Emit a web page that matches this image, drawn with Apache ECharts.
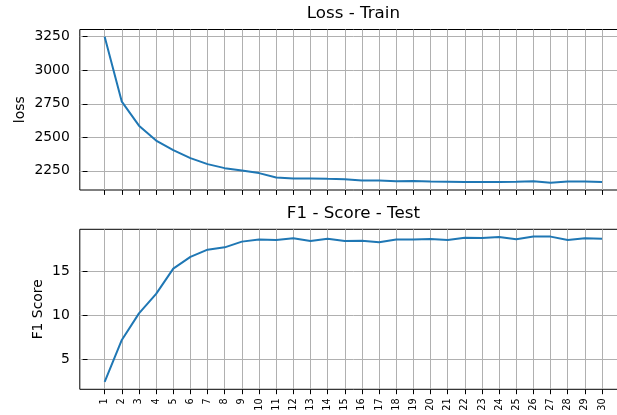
<!DOCTYPE html>
<html>
<head>
<meta charset="utf-8">
<script src="https://cdn.jsdelivr.net/npm/echarts@6/dist/echarts.min.js"></script>
<style>
html,body{margin:0;padding:0;background:#fff;overflow:hidden;width:617px;height:415px;}
#chart{width:640px;height:415px;}
</style>
</head>
<body>
<div id="chart"></div>
<script>
const epochs = [1,2,3,4,5,6,7,8,9,10,11,12,13,14,15,16,17,18,19,20,21,22,23,24,25,26,27,28,29,30];
const epochLabels = ['1','2','3','4','5','6','7','8','9','10','11','12','13','14','15','16','17','18','19','20','21','22','23','24','25','26','27','28','29','30'];
const lossTrain = [3250, 2766, 2587, 2476, 2404, 2345, 2300, 2270, 2252, 2233, 2200, 2193, 2193, 2190, 2188, 2178, 2177, 2173, 2175, 2170, 2168, 2166, 2166, 2166, 2168, 2173, 2161, 2170, 2170, 2166];
const f1Test = [2.39, 7.16, 10.18, 12.39, 15.26, 16.59, 17.42, 17.68, 18.33, 18.56, 18.52, 18.71, 18.41, 18.67, 18.41, 18.44, 18.25, 18.56, 18.56, 18.63, 18.52, 18.78, 18.75, 18.86, 18.6, 18.9, 18.9, 18.52, 18.71, 18.67];
const lossTicks = [2250, 2500, 2750, 3000, 3250];
const f1Ticks = [5, 10, 15];
const titles = ['Loss - Train', 'F1 - Score - Test'];
const yNames = ['loss', 'F1 Score'];

const FONT = 'DejaVu Sans';
const chart = echarts.init(document.getElementById('chart'), null, {renderer: 'canvas'});

const gridLeft = 79.8, gridWidth = 547.1;
function xAxis(gi, showLabels) {
  return {
    type: 'value', gridIndex: gi, min: -0.45, max: 31.45,
    axisLine: {show: false},
    axisTick: {show: true, customValues: epochs, length: 4.9, lineStyle: {color: '#000', width: 1}},
    axisLabel: {show: showLabels, customValues: epochs, rotate: 90, margin: 9,
      fontFamily: FONT, fontSize: 9.7, color: '#000',
      formatter: function (v) { return epochLabels[epochs.indexOf(v)]; }},
    splitLine: {show: true, lineStyle: {color: '#b0b0b0', width: 1}}
  };
}
function yAxis(gi, min, max, ticks, name, gap) {
  return {
    type: 'value', gridIndex: gi, min: min, max: max,
    name: name, nameLocation: 'middle', nameGap: gap, nameMoveOverlap: false,
    nameTextStyle: {fontFamily: FONT, fontSize: 13.9, color: '#000'},
    axisLine: {show: false},
    axisTick: {show: true, customValues: ticks, length: 4.9, lineStyle: {color: '#000', width: 1}},
    axisLabel: {show: true, customValues: ticks, margin: 10, fontFamily: FONT, fontSize: 13.9, color: '#000',
      formatter: function (v) { return String(v); }},
    splitLine: {show: true, lineStyle: {color: '#b0b0b0', width: 1}}
  };
}

const option = {
  animation: false,
  backgroundColor: '#fff',
  title: [
    {text: titles[0], left: 353.4, top: 5, textAlign: 'center', padding: 0,
     textStyle: {fontFamily: FONT, fontSize: 16.7, fontWeight: 'normal', color: '#000'}},
    {text: titles[1], left: 353.4, top: 205.5, textAlign: 'center', padding: 0,
     textStyle: {fontFamily: FONT, fontSize: 16.7, fontWeight: 'normal', color: '#000'}}
  ],
  grid: [
    {left: gridLeft, top: 29.5, width: gridWidth, height: 160.5, show: true, borderColor: '#000', borderWidth: 1, backgroundColor: 'transparent'},
    {left: gridLeft, top: 229.3, width: gridWidth, height: 160, show: true, borderColor: '#000', borderWidth: 1, backgroundColor: 'transparent'}
  ],
  xAxis: [xAxis(0, false), xAxis(1, true)],
  yAxis: [
    yAxis(0, 2107, 3304, lossTicks, yNames[0], 52),
    yAxis(1, 1.56, 19.73, f1Ticks, yNames[1], 34)
  ],
  series: [
    {type: 'line', xAxisIndex: 0, yAxisIndex: 0, showSymbol: false, symbol: 'none',
     lineStyle: {color: '#1f77b4', width: 2}, itemStyle: {color: '#1f77b4'},
     data: epochs.map((e, i) => [e, lossTrain[i]])},
    {type: 'line', xAxisIndex: 1, yAxisIndex: 1, showSymbol: false, symbol: 'none',
     lineStyle: {color: '#1f77b4', width: 2}, itemStyle: {color: '#1f77b4'},
     data: epochs.map((e, i) => [e, f1Test[i]])}
  ]
};
chart.setOption(option);
</script>
</body>
</html>
